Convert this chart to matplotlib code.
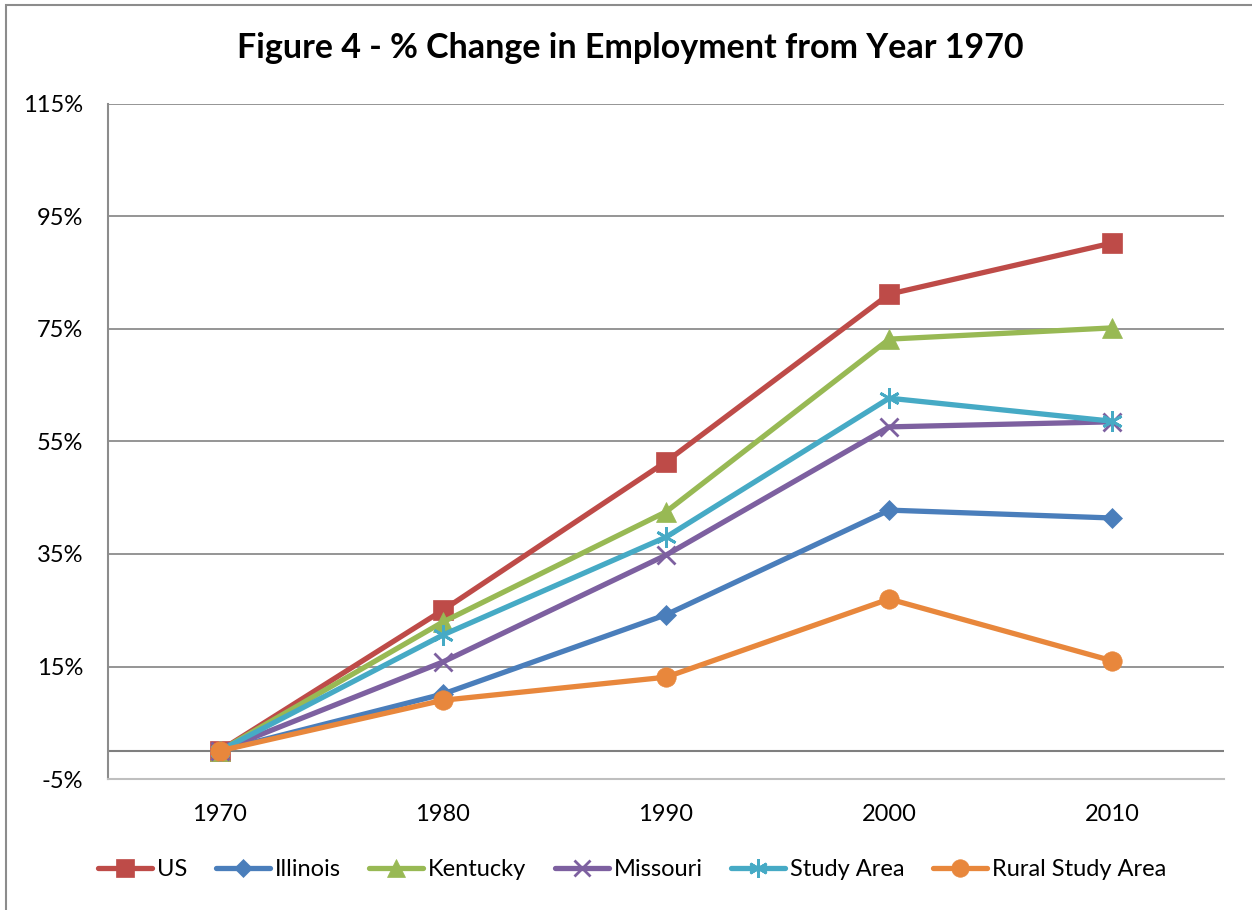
import matplotlib.pyplot as plt
from matplotlib.patches import Rectangle
from matplotlib.ticker import FuncFormatter

plt.rcParams['font.family'] = ['Lato', 'DejaVu Sans']

years = ['1970', '1980', '1990', '2000', '2010']
us = [0, 25.0, 51.4, 81.2, 90.3]
illinois = [0, 10.1, 24.2, 42.8, 41.4]
kentucky = [0, 22.9, 42.5, 73.2, 75.2]
missouri = [0, 15.8, 34.8, 57.6, 58.5]
study_area = [0, 20.6, 38.0, 62.7, 58.6]
rural_study_area = [0, 9.0, 13.1, 27.0, 16.0]

series = [
    ('US', us, '#BE4B48', 's', 14),
    ('Illinois', illinois, '#4A7EBB', 'D', 10),
    ('Kentucky', kentucky, '#98B954', '^', 15),
    ('Missouri', missouri, '#7D60A0', 'x', 13),
    ('Study Area', study_area, '#46AAC5', (6, 2, 0), 15),
    ('Rural Study Area', rural_study_area, '#E8873C', 'o', 14),
]

fig = plt.figure(figsize=(12.52, 9.10), dpi=100)
ax = fig.add_axes([108 / 1252, 1 - 779 / 910, (1224 - 108) / 1252, (779 - 104) / 910])

# outer chart frame
fig.patches.append(Rectangle((6 / 1252, -0.01), 1.1, 1 - 5 / 910 + 0.01,
                             transform=fig.transFigure, fill=False,
                             edgecolor='#8C8C8C', linewidth=1.5))

x = list(range(len(years)))
for name, vals, color, marker, ms in series:
    ax.plot(x, vals, color=color, linewidth=3.8, marker=marker, markersize=ms,
            markeredgewidth=2 if marker in ('x', (6, 2, 0)) else 0.5,
            markeredgecolor=color, label=name, solid_capstyle='round', zorder=3)

ax.set_xlim(-0.5, 4.5)
ax.set_ylim(-5, 115)
ax.set_yticks([-5, 15, 35, 55, 75, 95, 115])
ax.yaxis.set_major_formatter(FuncFormatter(lambda v, p: '%d%%' % v))
ax.set_xticks(x)
ax.set_xticklabels(years)

# gridlines
for g in [15, 35, 55, 75, 95, 115]:
    ax.axhline(g, color='#8C8C8C', linewidth=1.3, zorder=1)
ax.axhline(0, color='#7F7F7F', linewidth=1.5, zorder=1)

for s in ['top', 'right']:
    ax.spines[s].set_visible(False)
ax.spines['left'].set_color('#8C8C8C')
ax.spines['left'].set_linewidth(1.5)
ax.spines['bottom'].set_color('#BFBFBF')
ax.spines['bottom'].set_linewidth(1.5)

ax.tick_params(axis='both', length=0, labelsize=17)
ax.tick_params(axis='y', pad=18)
ax.tick_params(axis='x', pad=18)

fig.text(630 / 1252, 1 - 48 / 910, 'Figure 4 - % Change in Employment from Year 1970',
         ha='center', va='center', fontsize=24.5, fontweight='bold')

fig.legend(loc='center', bbox_to_anchor=(632 / 1252, 1 - 870 / 910), ncol=6,
           frameon=False, fontsize=17, handlelength=2.3, handletextpad=0.2,
           columnspacing=1.2, markerscale=0.9)

plt.savefig('out.png', dpi=100)
